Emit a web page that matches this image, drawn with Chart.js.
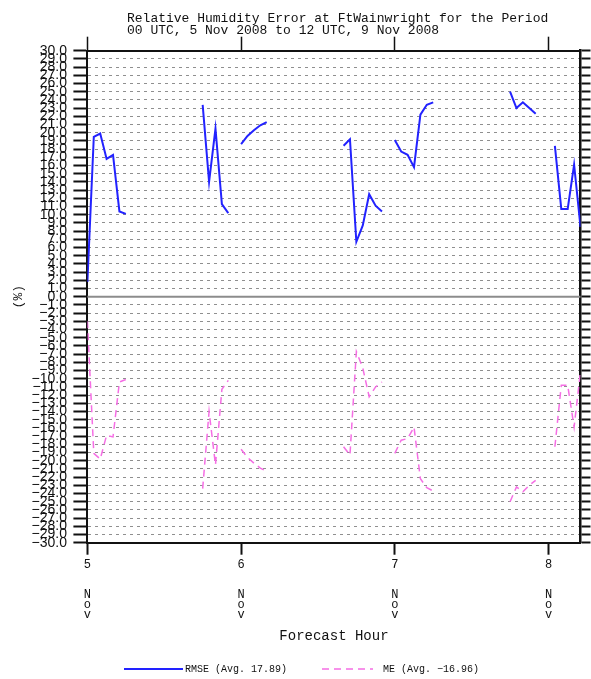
<!DOCTYPE html>
<html>
<head>
<meta charset="utf-8">
<script src="https://cdn.jsdelivr.net/npm/chart.js@4"></script>
<style>
  html, body { margin: 0; padding: 0; background: #ffffff; }
  canvas { display: block; }
</style>
</head>
<body>
<canvas id="c" width="591" height="679"></canvas>
<script>
// Forecast hour (from 00 UTC 5 Nov 2008); a null value breaks the line
const hours = [0, 1, 2, 3, 4, 5, 6, 7,
               18, 19, 20, 21, 22, 23,
               24, 25, 26, 27, 28, 29,
               40, 41, 42, 43, 44, 45, 46, 47,
               48, 49, 50, 51, 52, 53, 54, 55,
               66, 67, 68, 69, 70, 71,
               73, 74, 75, 76, 77];

const rmse = [1.8, 19.5, 19.9, 16.8, 17.3, 10.4, 10.1, null,
              23.4, 14.0, 20.5, 11.3, 10.2, null,
              18.6, 19.6, 20.3, 20.9, 21.3, null,
              18.4, 19.2, 6.7, 8.7, 12.5, 11.1, 10.4, null,
              19.1, 17.7, 17.3, 15.8, 22.2, 23.4, 23.7, null,
              25.0, 23.0, 23.7, 23.0, 22.3, null,
              18.4, 10.7, 10.7, 16.1, 8.5];

const me = [-3.0, -19.1, -19.8, -16.9, -17.1, -10.4, -10.1, null,
            -23.4, -14.0, -20.5, -11.3, -10.2, null,
            -18.6, -19.6, -20.3, -20.9, -21.3, null,
            -18.3, -19.3, -6.7, -8.7, -12.2, -11.0, -10.4, null,
            -19.1, -17.5, -17.3, -15.9, -22.2, -23.3, -23.7, null,
            -25.0, -23.2, -23.8, -23.0, -22.4, null,
            -18.3, -10.8, -10.8, -15.9, -9.1];

// Day ticks on the time axis
const dayHours = [0, 24, 48, 72];
const dayNames = ['5', '6', '7', '8'];
const monthName = 'Nov';

const titleLines = ['Relative Humidity Error at FtWainwright for the Period',
                    '00 UTC, 5 Nov 2008 to 12 UTC, 9 Nov 2008'];
const seriesNames = ['RMSE (Avg. 17.89)', 'ME (Avg. \u221216.96)'];

const MONO = "'Liberation Mono', 'DejaVu Sans Mono', monospace";
const SANS = "'Liberation Sans', Arial, sans-serif";

const toPoints = vals => hours.map((h, i) => ({x: h, y: vals[i]}));

const fmtY = v => (v < 0 ? '\u2212' + Math.abs(v).toFixed(1) : v.toFixed(1));

// Plot frame extents in canvas pixels
const FRAME = {left: 87.4, right: 580.5, top: 50.7, bottom: 542.7};

// Two-line heading, left aligned
const titlePlugin = {
  id: 'twoLineTitle',
  afterDraw(chart) {
    const ctx = chart.ctx;
    ctx.save();
    ctx.fillStyle = '#111';
    ctx.font = '13px ' + MONO;
    ctx.textBaseline = 'middle';
    ctx.textAlign = 'left';
    ctx.fillText(titleLines[0], 127, 19);
    ctx.fillText(titleLines[1], 127, 31);
    ctx.restore();
  }
};

// Solid reference line at zero
const zeroLinePlugin = {
  id: 'zeroLine',
  beforeDatasetsDraw(chart) {
    const {ctx, chartArea} = chart;
    const y = chart.scales.y.getPixelForValue(0);
    ctx.save();
    ctx.strokeStyle = '#8c8c8c';
    ctx.lineWidth = 2;
    ctx.beginPath();
    ctx.moveTo(chartArea.left, y);
    ctx.lineTo(chartArea.right, y);
    ctx.stroke();
    ctx.restore();
  }
};

// Key under the plot: a line sample followed by the series name
const keyPlugin = {
  id: 'seriesKey',
  afterDraw(chart) {
    const ctx = chart.ctx;
    const slots = [
      {x0: 124, x1: 183, tx: 185},
      {x0: 322, x1: 373, tx: 383}
    ];
    const y = 669;
    ctx.save();
    chart.data.datasets.forEach((ds, i) => {
      const s = slots[i];
      ctx.strokeStyle = ds.borderColor;
      ctx.lineWidth = ds.borderWidth;
      ctx.setLineDash(ds.borderDash || []);
      ctx.beginPath();
      ctx.moveTo(s.x0, y);
      ctx.lineTo(s.x1, y);
      ctx.stroke();
      ctx.setLineDash([]);
      ctx.fillStyle = '#111';
      ctx.font = '10px ' + MONO;
      ctx.textBaseline = 'middle';
      ctx.textAlign = 'left';
      ctx.fillText(ds.label, s.tx, y);
    });
    ctx.restore();
  }
};

const dayTicks = scale => { scale.ticks = dayHours.map(v => ({value: v})); };

new Chart(document.getElementById('c'), {
  type: 'line',
  data: {
    datasets: [
      {
        label: seriesNames[0],
        data: toPoints(rmse),
        borderColor: '#2222ff',
        backgroundColor: '#2222ff',
        borderWidth: 2,
        pointRadius: 0,
        spanGaps: false,
        tension: 0
      },
      {
        label: seriesNames[1],
        data: toPoints(me),
        borderColor: 'rgb(245,110,228)',
        backgroundColor: 'rgb(245,110,228)',
        borderWidth: 1.5,
        borderDash: [7, 5],
        pointRadius: 0,
        spanGaps: false,
        tension: 0
      }
    ]
  },
  options: {
    responsive: false,
    animation: false,
    events: [],
    layout: {padding: 0},
    plugins: {
      title: {display: false},
      tooltip: {enabled: false},
      legend: {display: false}
    },
    scales: {
      x: {
        type: 'linear',
        position: 'bottom',
        min: 0,
        max: 77,
        afterBuildTicks: dayTicks,
        afterFit: s => { s.height = 679 - FRAME.bottom; },
        ticks: {
          autoSkip: false,
          maxRotation: 0,
          padding: 5.3,
          color: '#111',
          font: {family: MONO, size: 12, lineHeight: '10px'},
          callback: v => {
            const i = dayHours.indexOf(v);
            return [dayNames[i], '', ''].concat(monthName.split(''));
          }
        },
        grid: {drawOnChartArea: false, drawTicks: true, tickLength: 12, tickColor: '#111', tickWidth: 2},
        border: {display: true, color: '#111', width: 2},
        title: {
          display: true,
          text: 'Forecast Hour',
          color: '#111',
          font: {family: MONO, size: 14},
          padding: {top: 0, bottom: 34.6}
        }
      },
      x2: {
        type: 'linear',
        position: 'top',
        min: 0,
        max: 77,
        afterBuildTicks: dayTicks,
        afterFit: s => { s.height = FRAME.top; },
        ticks: {display: false},
        grid: {drawOnChartArea: false, drawTicks: true, tickLength: 14, tickColor: '#111', tickWidth: 1.5},
        border: {display: true, color: '#111', width: 2}
      },
      y: {
        type: 'linear',
        position: 'left',
        min: -30,
        max: 30,
        afterFit: s => { s.width = FRAME.left; },
        ticks: {
          stepSize: 1,
          autoSkip: false,
          maxTicksLimit: 100,
          padding: 6.4,
          color: '#111',
          font: {family: SANS, size: 14},
          callback: v => fmtY(v)
        },
        grid: {
          drawOnChartArea: true,
          color: 'rgba(105,105,105,0.75)',
          lineWidth: 1,
          drawTicks: true,
          tickLength: 14,
          tickColor: '#111',
          tickWidth: 2
        },
        border: {display: true, color: '#111', width: 2, dash: [3, 4]},
        title: {
          display: true,
          text: '(%)',
          color: '#111',
          font: {family: MONO, size: 13},
          padding: {top: 10.5, bottom: 0}
        }
      },
      y2: {
        type: 'linear',
        position: 'right',
        min: -30,
        max: 30,
        afterFit: s => { s.width = 591 - FRAME.right; },
        ticks: {display: false, stepSize: 1, autoSkip: false, maxTicksLimit: 100},
        grid: {drawOnChartArea: false, drawTicks: true, tickLength: 10, tickColor: '#111', tickWidth: 2},
        border: {display: true, color: '#111', width: 2.5}
      }
    }
  },
  plugins: [titlePlugin, zeroLinePlugin, keyPlugin]
});
</script>
</body>
</html>
